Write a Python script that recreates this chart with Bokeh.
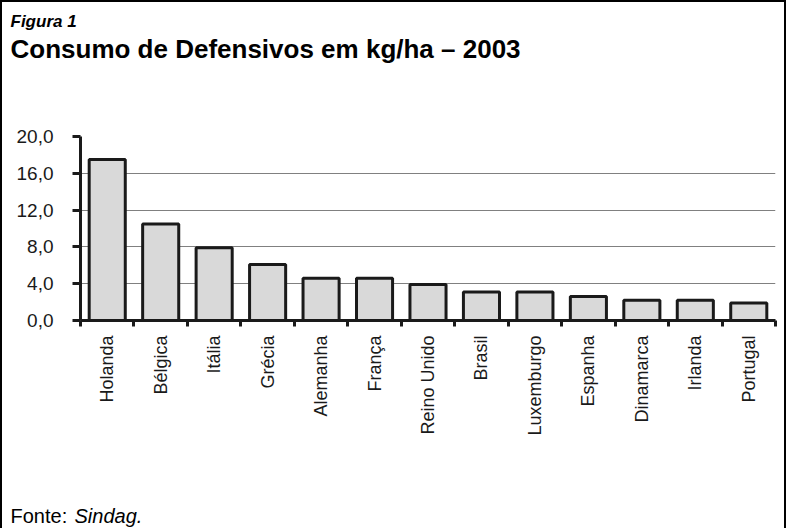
from math import pi
from bokeh.plotting import figure
from bokeh.layouts import column
from bokeh.models import FixedTicker, Range1d
from bokeh.core.properties import value
from bokeh.embed import file_html
from bokeh.resources import INLINE

countries = ["Holanda", "Bélgica", "Itália", "Grécia", "Alemanha", "França",
             "Reino Unido", "Brasil", "Luxemburgo", "Espanha", "Dinamarca",
             "Irlanda", "Portugal"]
values = [17.5, 10.5, 7.9, 6.1, 4.6, 4.6, 3.9, 3.1, 3.1, 2.6, 2.2, 2.2, 1.9]
y_ticks = [0, 4, 8, 12, 16, 20]
y_tick_labels = ["0,0", "4,0", "8,0", "12,0", "16,0", "20,0"]
fig_label = "Figura 1"
title_text = "Consumo de Defensivos em kg/ha \u2013 2003"
source_prefix = "Fonte:"
source_name = "Sindag."

FONT = "Liberation Sans"
INK = "#1a1a1a"
CW = 782          # content width (inside the 2px border)
HH, MH, FH = 100, 390, 36   # header, main, footer heights


def blank(h):
    f = figure(width=CW, height=h, x_range=Range1d(0, CW), y_range=Range1d(0, h),
               output_backend="svg", toolbar_location=None,
               x_axis_location=None, y_axis_location=None,
               min_border=0, min_border_left=0, min_border_right=0,
               min_border_top=0, min_border_bottom=0)
    f.frame_align = False
    f.grid.visible = False
    f.outline_line_color = None
    f.background_fill_color = "white"
    f.border_fill_color = "white"
    return f


# ---- header ----
head = blank(HH)
head.text(x=[8], y=[HH - 19], text=[fig_label], text_font=value(FONT),
          text_font_size="17px", text_font_style="bold italic",
          text_color="black", text_baseline="alphabetic", text_align="left")
head.text(x=[8], y=[HH - 46], text=[title_text], text_font=value(FONT),
          text_font_size="26px", text_font_style="bold",
          text_color="black", text_baseline="alphabetic", text_align="left")

# ---- main chart ----
n = len(countries)
xs = [i + 0.5 for i in range(n)]
L, T = 78, 34
R = CW - 773
B = MH - 218

p = figure(width=CW, height=MH, x_range=Range1d(0, n), y_range=Range1d(0, 20),
           output_backend="svg", toolbar_location=None,
           min_border_left=L, min_border_right=R, min_border_top=T,
           min_border_bottom=B)
p.frame_align = False
p.outline_line_color = None
p.background_fill_color = "white"
p.border_fill_color = "white"

p.vbar(x=xs, top=values, width=0.675, bottom=0, fill_color="#d9d9d9",
       line_color=INK, line_width=3)

p.xgrid.visible = False
p.ygrid.ticker = FixedTicker(ticks=y_ticks)
p.ygrid.grid_line_color = "#808080"
p.ygrid.grid_line_width = 1

ya = p.yaxis[0]
ya.ticker = FixedTicker(ticks=y_ticks, minor_ticks=[])
ya.major_label_overrides = {t: s for t, s in zip(y_ticks, y_tick_labels)}
ya.axis_line_width = 3
ya.axis_line_color = INK
ya.major_tick_line_width = 3
ya.major_tick_line_color = INK
ya.major_tick_in = 0
ya.major_tick_out = 8
ya.minor_tick_line_color = None
ya.major_label_standoff = 19
ya.major_label_text_font = FONT
ya.major_label_text_font_size = "19px"
ya.major_label_text_color = INK

xa = p.xaxis[0]
xa.ticker = FixedTicker(ticks=xs, minor_ticks=list(range(n + 1)))
xa.major_label_overrides = {x: c for x, c in zip(xs, countries)}
xa.major_label_orientation = pi / 2
xa.axis_line_width = 3
xa.axis_line_color = INK
xa.major_tick_line_color = None
xa.minor_tick_line_color = INK
xa.minor_tick_line_width = 3
xa.minor_tick_in = 0
xa.minor_tick_out = 6
xa.major_label_standoff = 9
xa.major_label_text_font = FONT
xa.major_label_text_font_size = "18px"
xa.major_label_text_color = INK

# ---- footer ----
foot = blank(FH)
foot.text(x=[8], y=[FH - 23], text=[source_prefix], text_font=value(FONT),
          text_font_size="20px", text_color="black",
          text_baseline="alphabetic", text_align="left")
foot.text(x=[72], y=[FH - 23], text=[source_name], text_font=value(FONT),
          text_font_size="20px", text_font_style="italic", text_color="black",
          text_baseline="alphabetic", text_align="left")

page = column(head, p, foot, spacing=0,
              styles={"border-left": "2px solid black",
                      "border-top": "2px solid black",
                      "border-right": "2px solid black"})

open("out.html", "w").write(file_html(page, INLINE))
